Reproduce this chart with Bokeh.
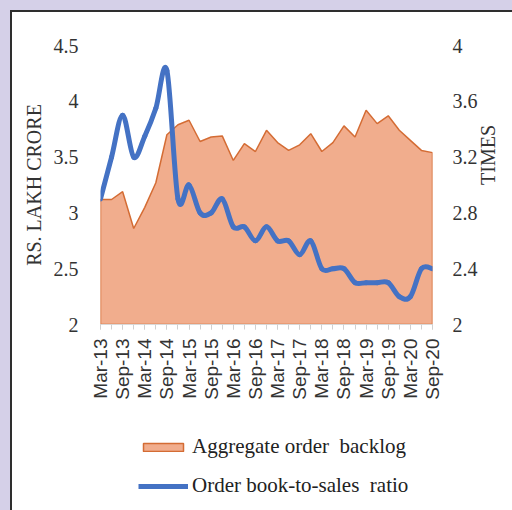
from bokeh.plotting import figure
from bokeh.models import (Range1d, LinearAxis, FixedTicker, NumeralTickFormatter,
                          Legend, LegendItem)
from bokeh.layouts import column
from bokeh.embed import file_html
from bokeh.resources import INLINE
import math

quarters = ["Mar-13", "Jun-13", "Sep-13", "Dec-13", "Mar-14", "Jun-14", "Sep-14", "Dec-14",
            "Mar-15", "Jun-15", "Sep-15", "Dec-15", "Mar-16", "Jun-16", "Sep-16", "Dec-16",
            "Mar-17", "Jun-17", "Sep-17", "Dec-17", "Mar-18", "Jun-18", "Sep-18", "Dec-18",
            "Mar-19", "Jun-19", "Sep-19", "Dec-19", "Mar-20", "Jun-20", "Sep-20"]

backlog = [3.12, 3.12, 3.19, 2.86, 3.05, 3.27, 3.70, 3.79, 3.83, 3.64, 3.68, 3.69, 3.47,
           3.62, 3.55, 3.74, 3.63, 3.56, 3.61, 3.71, 3.55, 3.63, 3.78, 3.68, 3.92, 3.80,
           3.87, 3.74, 3.65, 3.56, 3.54]

ratio = [2.9, 3.2, 3.5, 3.2, 3.35, 3.55, 3.82, 2.9, 3.0, 2.8, 2.8, 2.9, 2.7, 2.7, 2.6,
         2.7, 2.6, 2.6, 2.5, 2.6, 2.4, 2.4, 2.4, 2.3, 2.3, 2.3, 2.3, 2.2, 2.2, 2.4, 2.4]

left_ticks = [2, 2.5, 3, 3.5, 4, 4.5]
right_ticks = [2, 2.4, 2.8, 3.2, 3.6, 4]

SERIF = "Liberation Serif, Times New Roman, Tinos, serif"
SANS = "Liberation Sans, Arial, sans-serif"
TXT = "#333333"
FILL = "#f1ad8d"
EDGE = "#d46c34"
BLUE = "#4472c4"

n = len(quarters)
xs = list(range(n))

p = figure(width=512, height=410, output_backend="svg", toolbar_location=None,
           x_range=Range1d(0, n - 1), y_range=Range1d(2, 4.5),
           min_border_left=100, min_border_right=80, min_border_top=45, min_border_bottom=86,
           background_fill_alpha=0, border_fill_alpha=0)
p.outline_line_color = None
p.grid.visible = False
p.extra_y_ranges = {"r": Range1d(2, 4)}

# area (aggregate order backlog)
px = xs + [n - 1, 0]
py = backlog + [2, 2]
p.patch(px, py, fill_color=FILL, fill_alpha=1.0, line_color=EDGE, line_width=1.5)

# smoothed ratio line as bezier segments
def ctrl(vals):
    x0, y0, x1, y1, cx0, cy0, cx1, cy1 = [], [], [], [], [], [], [], []
    m = len(vals)
    for i in range(m - 1):
        im1 = max(i - 1, 0)
        ip2 = min(i + 2, m - 1)
        x0.append(i); y0.append(vals[i])
        x1.append(i + 1); y1.append(vals[i + 1])
        cx0.append(i + (i + 1 - im1) / 6.0); cy0.append(vals[i] + (vals[i + 1] - vals[im1]) / 6.0)
        cx1.append(i + 1 - (ip2 - i) / 6.0); cy1.append(vals[i + 1] - (vals[ip2] - vals[i]) / 6.0)
    return dict(x0=x0, y0=y0, x1=x1, y1=y1, cx0=cx0, cy0=cy0, cx1=cx1, cy1=cy1)

bz = ctrl(ratio)
p.bezier(y_range_name="r", line_color=BLUE, line_width=5, line_cap="round", **bz)

# axes
xa = p.xaxis[0]
xa.ticker = FixedTicker(ticks=xs[::2], minor_ticks=xs)
xa.major_label_overrides = {i: quarters[i] for i in xs[::2]}
xa.major_label_orientation = math.pi / 2
xa.major_label_text_font = SANS
xa.major_label_text_font_size = "19px"
xa.major_label_text_color = TXT
xa.axis_line_color = "#d9d9d9"
xa.major_tick_line_color = "#d0d0d0"
xa.minor_tick_line_color = "#d0d0d0"
xa.major_tick_out = 5
xa.major_tick_in = 0
xa.minor_tick_out = 5
xa.minor_tick_in = 0
xa.major_label_standoff = 9

def style_y(ax, label, lab_standoff, title_standoff):
    ax.axis_line_color = None
    ax.major_tick_line_color = None
    ax.minor_tick_line_color = None
    ax.major_tick_out = 0
    ax.major_tick_in = 0
    ax.minor_tick_out = 0
    ax.minor_tick_in = 0
    ax.major_label_standoff = lab_standoff
    ax.major_label_text_font = SERIF
    ax.major_label_text_font_size = "20px"
    ax.major_label_text_color = TXT
    ax.axis_label = label
    ax.axis_label_standoff = title_standoff
    ax.axis_label_text_font = SERIF
    ax.axis_label_text_font_size = "20px"
    ax.axis_label_text_font_style = "normal"
    ax.axis_label_text_color = TXT

ya = p.yaxis[0]
ya.ticker = FixedTicker(ticks=left_ticks)
ya.formatter = NumeralTickFormatter(format="0.[0]")
style_y(ya, "RS. LAKH CRORE", 22, 6)

ra = LinearAxis(y_range_name="r", ticker=FixedTicker(ticks=right_ticks),
                formatter=NumeralTickFormatter(format="0.[0]"))
style_y(ra, "TIMES", 20, 7)
if "axis_label_orientation" in ra.properties():
    ra.axis_label_orientation = math.pi / 2
p.add_layout(ra, "right")

# legend in a strip below the chart (frame aligned with the chart above)
q = figure(width=512, height=100, output_backend="svg", toolbar_location=None,
           x_range=Range1d(0, 1), y_range=Range1d(0, 1),
           min_border_left=0, min_border_right=0, min_border_top=0, min_border_bottom=0,
           background_fill_alpha=0, border_fill_alpha=0)
q.outline_line_color = None
q.grid.visible = False
q.axis.visible = False
leg_area = q.patch(x=[5, 6, 6], y=[5, 5, 6], fill_color=FILL, line_color=EDGE, line_width=1.5)
leg_line = q.line(x=[5, 6], y=[5, 6], line_color=BLUE, line_width=5)

legend = Legend(items=[LegendItem(label="Aggregate order  backlog", renderers=[leg_area]),
                       LegendItem(label="Order book-to-sales  ratio", renderers=[leg_line])],
                location=(38, 12), orientation="vertical",
                background_fill_alpha=0, border_line_color=None,
                padding=0, margin=0, spacing=14, label_standoff=4,
                glyph_width=50, glyph_height=10, label_height=25,
                label_text_font=SERIF, label_text_font_size="21px", label_text_color="#222222")
q.add_layout(legend, "center")

layout = column(p, q, spacing=0)

html = file_html(layout, INLINE)
css = ("<style>html,body{background:"
       "linear-gradient(#d5d0e8,#d5d0e8) 0 0/100% 10px no-repeat,"
       "linear-gradient(#d5d0e8,#d5d0e8) 0 0/10px 100% no-repeat,"
       "linear-gradient(#2e2e2e,#2e2e2e) 10px 10px/100% 2px no-repeat,"
       "linear-gradient(#2e2e2e,#2e2e2e) 10px 10px/2px 100% no-repeat,"
       "#ffffff;}</style>")
html = html.replace("<head>", "<head>" + css, 1)
open("out.html", "w").write(html)
